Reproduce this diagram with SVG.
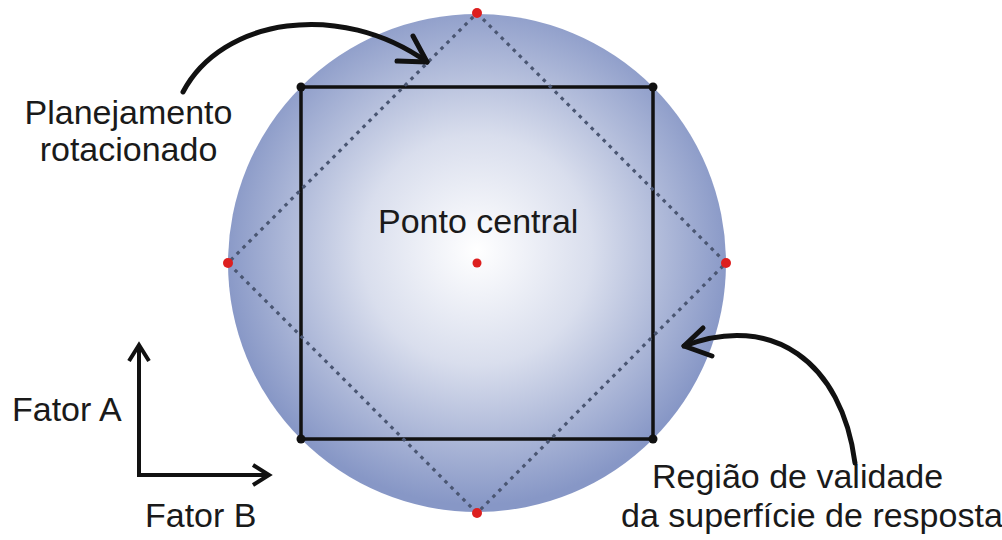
<svg xmlns="http://www.w3.org/2000/svg" width="1002" height="540" viewBox="0 0 1002 540">
<defs>
<radialGradient id="g" cx="477" cy="250" r="255" gradientUnits="userSpaceOnUse">
<stop offset="0" stop-color="#ffffff"/>
<stop offset="0.45" stop-color="#d9deed"/>
<stop offset="1" stop-color="#8797c6"/>
</radialGradient>
<style>
.t{font-family:"Liberation Sans",Arial,sans-serif;font-size:34px;fill:#1a1a1a}
.arr{fill:none;stroke:#111;stroke-width:5;stroke-linecap:round;stroke-linejoin:round}
.ax{fill:none;stroke:#111;stroke-width:4;stroke-linecap:butt;stroke-linejoin:miter}
.red{fill:#dd1f1f}
.blk{fill:#111}
</style>
</defs>
<rect width="1002" height="540" fill="#ffffff"/>
<g id="region">
<circle cx="477" cy="263" r="249" fill="url(#g)"/>
</g>
<g id="square">
<rect x="301" y="87" width="352" height="352" fill="none" stroke="#111" stroke-width="3.5"/>
<circle class="blk" cx="301" cy="87" r="4.5"/>
<circle class="blk" cx="653" cy="87" r="4.5"/>
<circle class="blk" cx="653" cy="439" r="4.5"/>
<circle class="blk" cx="301" cy="439" r="4.5"/>
</g>
<g id="rotated">
<polygon points="477,13 726,263 477,513 228,263" fill="none" stroke="#4a5672" stroke-width="3.2" stroke-dasharray="3.5 5"/>
<circle class="red" cx="477" cy="13" r="5"/>
<circle class="red" cx="726" cy="263" r="5"/>
<circle class="red" cx="477" cy="513" r="5"/>
<circle class="red" cx="228" cy="263" r="5"/>
</g>
<g id="center">
<circle class="red" cx="477" cy="263" r="4.5"/>
<text class="t" x="378" y="233">Ponto central</text>
</g>
<g id="label-rot">
<text class="t" x="128.5" y="124" text-anchor="middle">Planejamento</text>
<text class="t" x="128.5" y="161" text-anchor="middle">rotacionado</text>
</g>
<g id="label-region">
<text class="t" x="652" y="488">Região de validade</text>
<text class="t" x="621" y="527">da superfície de resposta</text>
</g>
<g id="axes">
<polyline class="ax" points="139,345 139,475 269,475"/>
<polyline class="ax" points="129,361 139,345 149,361"/>
<polyline class="ax" points="253,465 269,475 253,485"/>
<text class="t" x="12" y="421">Fator A</text>
<text class="t" x="145" y="527">Fator B</text>
</g>
<g id="connectors">
<path class="arr" d="M183,92 C222,18 340,0 427,62"/>
<polyline class="arr" points="413,36 427,62 397,61"/>
<path class="arr" d="M855,463 C842,362 772,312 684,346"/>
<polyline class="arr" points="703,328 684,346 712,356"/>
</g>
</svg>
